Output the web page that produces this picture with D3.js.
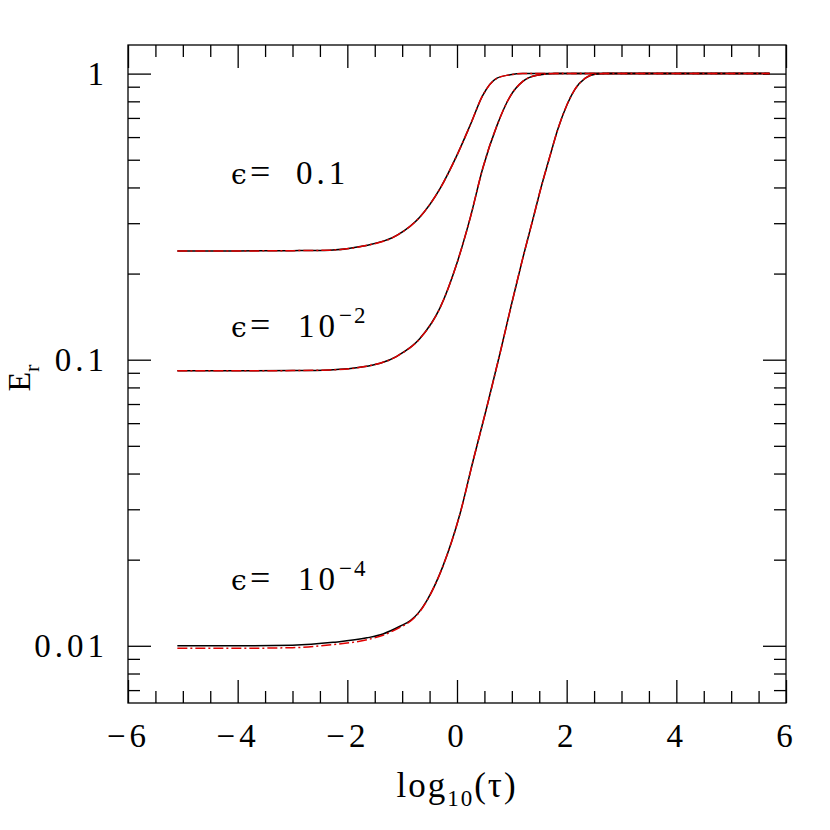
<!DOCTYPE html>
<html>
<head>
<meta charset="utf-8">
<script src="https://cdn.jsdelivr.net/npm/d3@7"></script>
<style>
  body { margin: 0; background: #fff; }
  svg text { font-family: "Liberation Serif", "DejaVu Serif", serif; fill: #000; }
</style>
</head>
<body>
<svg width="830" height="830"></svg>
<script>
// values: x = log10(tau), y = E_r
var tauA = [-5.1, -4, -3, -2.32, -1.71, -1.09, -0.68, -0.31, 0.0, 0.24, 0.47, 0.73, 0.97, 1.2, 2, 3, 4, 5, 5.7];
var epsA = [0.240, 0.240, 0.2405, 0.2415, 0.2495, 0.2723, 0.3148, 0.3963, 0.5188, 0.6601, 0.8400, 0.9638, 0.9908, 1, 1, 1, 1, 1, 1];

var tauB = [-5.1, -4, -3, -2.32, -1.71, -1.09, -0.68, -0.31, 0.0, 0.24, 0.47, 0.73, 0.97, 1.2, 1.46, 1.79, 2.5, 3, 4, 5, 5.7];
var epsB = [0.0914, 0.0914, 0.0916, 0.0921, 0.0944, 0.1030, 0.1183, 0.1517, 0.2178, 0.3126, 0.4670, 0.6592, 0.8333, 0.9397, 0.9863, 1, 1, 1, 1, 1, 1];

var tauC = [-5.1, -4, -3, -2.26, -1.64, -1.35, -1.04, -0.85, -0.70, -0.55, -0.26, 0.06, 0.29, 0.55, 0.79, 1.0, 1.2, 1.39, 1.51, 1.7, 1.84, 2.01, 2.15, 2.34, 2.52, 2.7, 3, 4, 5, 5.7];
var epsC = [0.0100, 0.0100, 0.01005, 0.01028, 0.01066, 0.01100, 0.01170, 0.01225, 0.01306, 0.01439, 0.01891, 0.02917, 0.04406, 0.06902, 0.1064, 0.1578, 0.2265, 0.3126, 0.3850, 0.5188, 0.6400, 0.7816, 0.8810, 0.9638, 0.9953, 1, 1, 1, 1, 1];
// red dash-dot curve for eps = 1e-4 sits a little lower on the plateau
var epsCred = [0.0098, 0.0098, 0.00985, 0.0101, 0.01050, 0.01088, 0.01160, 0.01218, 0.01300, 0.01435, 0.01891, 0.02917, 0.04406, 0.06902, 0.1064, 0.1578, 0.2265, 0.3126, 0.3850, 0.5188, 0.6400, 0.7816, 0.8810, 0.9638, 0.9953, 1, 1, 1, 1, 1];

var xMajor = [-6, -4, -2, 0, 2, 4, 6];
var yMajor = [0.01, 0.1, 1];
var yLabels = ["0.01", "0.1", "1"];

function main() {
    var svg = d3.select("svg");
    var left = 128, right = 786, top = 45, bottom = 703;

    var x = d3.scaleLinear().domain([-6, 6]).range([left, right]);
    var y = d3.scaleLog().domain([Math.pow(10, -2.2), Math.pow(10, 0.1)]).range([bottom, top]);

    var xMinor = d3.range(-6, 6.01, 0.5).filter(function(v) { return xMajor.indexOf(v) < 0; });
    var yMinor = [];
    [0.001, 0.01, 0.1, 1].forEach(function(d) {
        for (var k = 2; k <= 9; k++) {
            var v = d * k;
            if (v >= y.domain()[0] && v <= y.domain()[1]) yMinor.push(v);
        }
    });

    function styleAxis(g) {
        g.select(".domain").remove();
        g.selectAll("line").attr("stroke", "#000").attr("stroke-width", 1.3);
        g.selectAll("text")
         .attr("font-size", "33px")
         .attr("letter-spacing", "4px")
         .style("font-family", "Liberation Serif, serif");
    }

    // bottom and top
    svg.append("g").attr("transform", "translate(0," + bottom + ")")
       .call(d3.axisBottom(x).tickValues(xMajor).tickSize(-23).tickPadding(21)
             .tickFormat(function(d) { return d < 0 ? "\u2212" + (-d) : d; }))
       .call(styleAxis);
    svg.append("g").attr("transform", "translate(0," + bottom + ")")
       .call(d3.axisBottom(x).tickValues(xMinor).tickSize(-12).tickFormat(""))
       .call(styleAxis);
    svg.append("g").attr("transform", "translate(0," + top + ")")
       .call(d3.axisTop(x).tickValues(xMajor).tickSize(-23).tickFormat(""))
       .call(styleAxis);
    svg.append("g").attr("transform", "translate(0," + top + ")")
       .call(d3.axisTop(x).tickValues(xMinor).tickSize(-12).tickFormat(""))
       .call(styleAxis);

    // left and right
    svg.append("g").attr("transform", "translate(" + left + ",0)")
       .call(d3.axisLeft(y).tickValues(yMajor).tickSize(-23).tickPadding(20)
             .tickFormat(function(d, i) { return yLabels[i]; }))
       .call(styleAxis);
    svg.append("g").attr("transform", "translate(" + left + ",0)")
       .call(d3.axisLeft(y).tickValues(yMinor).tickSize(-12).tickFormat(""))
       .call(styleAxis);
    svg.append("g").attr("transform", "translate(" + right + ",0)")
       .call(d3.axisRight(y).tickValues(yMajor).tickSize(-23).tickFormat(""))
       .call(styleAxis);
    svg.append("g").attr("transform", "translate(" + right + ",0)")
       .call(d3.axisRight(y).tickValues(yMinor).tickSize(-12).tickFormat(""))
       .call(styleAxis);

    svg.append("rect")
       .attr("x", left).attr("y", top)
       .attr("width", right - left).attr("height", bottom - top)
       .attr("fill", "none").attr("stroke", "#000").attr("stroke-width", 1.3);

    var line = d3.line()
        .x(function(d) { return x(d[0]); })
        .y(function(d) { return y(d[1]); })
        .curve(d3.curveMonotoneX);

    var curves = [
        { tau: tauA, black: epsA, red: epsA },
        { tau: tauB, black: epsB, red: epsB },
        { tau: tauC, black: epsC, red: epsCred }
    ];

    curves.forEach(function(c) {
        svg.append("path")
           .datum(d3.zip(c.tau, c.black))
           .attr("d", line)
           .attr("fill", "none")
           .attr("stroke", "#000")
           .attr("stroke-width", 1.5);
        svg.append("path")
           .datum(d3.zip(c.tau, c.red))
           .attr("d", line)
           .attr("fill", "none")
           .attr("stroke", "#e00000")
           .attr("stroke-width", 1.5)
           .attr("stroke-dasharray", "10,3,2,3");
    });

    // annotations
    function epsLabel(yBase, value, power) {
        var t = svg.append("text").attr("x", 231).attr("y", yBase)
                   .attr("font-size", "33px");
        t.append("tspan").style("font-family", "DejaVu Serif, serif").attr("font-size", "28px").text("\u03f5");
        t.append("tspan").attr("x", 250).attr("font-size", "36px").text("=");
        if (power == null) {
            t.append("tspan").attr("x", 296).attr("letter-spacing", "4px").text(value);
        } else {
            t.append("tspan").attr("x", 298).attr("letter-spacing", "4px").text(value);
            t.append("tspan").attr("dy", -14).attr("font-size", "23px")
             .attr("letter-spacing", "2px").text(power);
        }
    }
    epsLabel(184, "0.1", null);
    epsLabel(337, "10", "\u22122");
    epsLabel(590, "10", "\u22124");

    // axis titles
    var xt = svg.append("text").attr("x", 457).attr("y", 797)
                .attr("text-anchor", "middle").attr("font-size", "35px")
                .attr("letter-spacing", "2px");
    xt.append("tspan").text("log");
    xt.append("tspan").attr("dy", 9).attr("font-size", "23px").text("10");
    xt.append("tspan").attr("dy", -9).text("(\u03c4)");

    var yt = svg.append("text")
                .attr("transform", "translate(30,378) rotate(-90)")
                .attr("text-anchor", "middle").attr("font-size", "32px");
    yt.append("tspan").text("E");
    yt.append("tspan").attr("dy", 9).attr("font-size", "22px").text("r");
}
main();
</script>
</body>
</html>
